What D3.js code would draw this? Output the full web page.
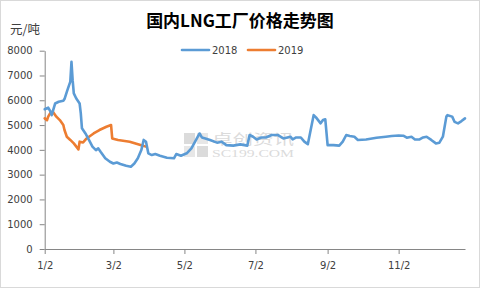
<!doctype html>
<html lang="zh">
<head>
<meta charset="utf-8">
<title>国内LNG工厂价格走势图</title>
<style>
	html, body { margin: 0; padding: 0; background: #fff; }
	svg { display: block; }
</style>
</head>
<body>
<svg id="chart" width="480" height="288"></svg>
<script src="https://cdn.jsdelivr.net/npm/d3@7/dist/d3.min.js"></script>
<script>
// 2018 series (month/day, yuan per ton)
var dates2018 = ["1/2","1/5","1/7","1/8","1/11","1/14","1/18","1/19","1/21","1/22","1/24","1/25","1/26","1/27","1/29",
	"2/1","2/2","2/3","2/4","2/6","2/9","2/12","2/15","2/17","2/19","2/23","2/27","3/2","3/5","3/8","3/13","3/17",
	"3/20","3/23","3/26","3/28","3/30","4/1","4/4","4/7","4/11","4/17","4/23","4/25","4/29","5/4","5/8","5/12",
	"5/15","5/17","5/20","5/24","5/30","6/3","6/7","6/13","6/19","6/25","6/27","6/30","7/3","7/7","7/11","7/16",
	"7/21","7/26","8/1","8/3","8/6","8/10","8/13","8/16","8/19","8/21","8/23","8/27","8/29","8/31","9/2","9/7",
	"9/12","9/15","9/18","9/21","9/25","9/28","10/5","10/14","10/22","10/27","11/2","11/6","11/9","11/13","11/16",
	"11/20","11/23","11/26","11/30","12/4","12/7","12/10","12/13","12/14","12/18","12/20","12/23","12/26","12/29"];
var values2018 = [5640,5700,5540,5400,5870,5940,5980,6050,6340,6480,6750,7550,6810,6280,6080,
	5870,5470,4870,4800,4660,4400,4130,3990,4060,3920,3660,3520,3450,3490,3430,3360,3320,
	3450,3660,3990,4400,4330,3860,3790,3830,3760,3680,3660,3830,3760,3860,4060,4400,
	4660,4500,4460,4400,4290,4330,4190,4170,4220,4170,4600,4530,4420,4500,4500,4600,
	4600,4460,4530,4420,4500,4500,4330,4230,4930,5400,5310,5070,5200,5230,4190,4190,
	4170,4330,4600,4560,4530,4400,4420,4490,4530,4560,4580,4570,4490,4530,4420,
	4420,4500,4530,4400,4260,4290,4530,5340,5400,5340,5130,5070,5160,5270];

// 2019 series
var dates2019 = ["1/2","1/4","1/5","1/7","1/9","1/12","1/15","1/18","1/19","1/21","1/24","1/27","1/31",
	"2/1","2/4","2/7","2/13","2/18","2/24","2/28","3/1","3/6","3/16","3/26","3/30"];
var values2019 = [5270,5200,5340,5500,5540,5340,5200,5000,4800,4530,4400,4260,4020,
	4330,4300,4460,4660,4800,4930,5000,4460,4400,4330,4190,4130];

var seriesNames = ["2018", "2019"];
var seriesColors = ["#5B9BD5", "#ED7D31"];
var yTicks = [0, 1000, 2000, 3000, 4000, 5000, 6000, 7000, 8000];
var xTickLabels = ["1/2", "3/2", "5/2", "7/2", "9/2", "11/2"];

(function () {
	"use strict";

	var parse = function (s) { return d3.timeParse("%Y/%m/%d")("2018/" + s); };
	var fmt = d3.timeFormat("%-m/%-d");

	var svg = d3.select("#chart");
	var font = "'DejaVu Sans', Verdana, sans-serif";

	// outer frame
	svg.append("rect")
		.attr("x", 0.5).attr("y", 0.5)
		.attr("width", 479).attr("height", 287)
		.attr("fill", "#fff")
		.attr("stroke", "#d9d9d9");

	var x = d3.scaleTime()
		.domain([parse("1/2"), parse("12/29")])
		.range([44.7, 465]);
	var y = d3.scaleLinear()
		.domain([0, 8000])
		.range([249, 50.7]);

	// watermark
	var wm = svg.append("g").attr("opacity", 0.35);
	wm.append("rect").attr("x", 184).attr("y", 133).attr("width", 11).attr("height", 11).attr("fill", "#999");
	wm.append("rect").attr("x", 197).attr("y", 133).attr("width", 11).attr("height", 11).attr("fill", "#bbb");
	wm.append("rect").attr("x", 184).attr("y", 146).attr("width", 11).attr("height", 11).attr("fill", "#bbb");
	wm.append("rect").attr("x", 197).attr("y", 146).attr("width", 11).attr("height", 11).attr("fill", "#999");
	wm.append("text").attr("x", 212).attr("y", 144)
		.attr("font-family", "'Noto Sans CJK SC'").attr("font-size", 14)
		.attr("textLength", 82).attr("lengthAdjust", "spacingAndGlyphs")
		.attr("fill", "#999").text("卓创资讯");
	wm.append("text").attr("x", 212).attr("y", 157)
		.attr("font-family", "'Liberation Serif', serif").attr("font-size", 10)
		.attr("textLength", 82).attr("lengthAdjust", "spacingAndGlyphs")
		.attr("fill", "#999").text("SC199.COM");

	// y axis
	var yAxis = svg.append("g")
		.attr("transform", "translate(44.7,0)")
		.call(d3.axisLeft(y).tickValues(yTicks).tickSize(5).tickSizeOuter(0).tickFormat(d3.format("d")));
	// x axis
	var xAxis = svg.append("g")
		.attr("transform", "translate(0,249)")
		.call(d3.axisBottom(x).tickValues(xTickLabels.map(parse)).tickSize(5).tickSizeOuter(0).tickFormat(fmt));

	[yAxis, xAxis].forEach(function (g) {
		g.selectAll("path, line").attr("stroke", "#868686");
		g.selectAll("text")
			.attr("font-family", font)
			.attr("font-size", 10)
			.attr("fill", "#404040");
	});
	yAxis.selectAll("text").attr("x", -12);
	xAxis.selectAll("text").attr("y", 13);

	var line = d3.line()
		.x(function (d) { return x(d.date); })
		.y(function (d) { return y(d.value); });

	var series = [
		dates2018.map(function (d, i) { return { date: parse(d), value: values2018[i] }; }),
		dates2019.map(function (d, i) { return { date: parse(d), value: values2019[i] }; })
	];

	// draw 2018 on top of 2019 like the source
	[1, 0].forEach(function (i) {
		svg.append("path")
			.datum(series[i])
			.attr("fill", "none")
			.attr("stroke", seriesColors[i])
			.attr("stroke-width", 2.6)
			.attr("stroke-linejoin", "round")
			.attr("stroke-linecap", "round")
			.attr("d", line);
	});

	// title
	svg.append("text")
		.attr("x", 240).attr("y", 27)
		.attr("text-anchor", "middle")
		.attr("font-family", "'Noto Sans CJK SC'")
		.attr("font-weight", "bold")
		.attr("font-size", 17)
		.attr("fill", "#000")
		.text("国内LNG工厂价格走势图");

	// unit label
	svg.append("text")
		.attr("x", 10).attr("y", 34)
		.attr("font-family", "'Noto Sans CJK SC'")
		.attr("font-size", 12.5)
		.attr("fill", "#404040")
		.text("元/吨");

	// legend
	var legend = svg.append("g");
	var lx = [182, 248];
	seriesNames.forEach(function (name, i) {
		legend.append("line")
			.attr("x1", lx[i]).attr("x2", lx[i] + 27)
			.attr("y1", 50).attr("y2", 50)
			.attr("stroke", seriesColors[i])
			.attr("stroke-width", 2.6)
			.attr("stroke-linecap", "round");
		legend.append("text")
			.attr("x", lx[i] + 30).attr("y", 54)
			.attr("font-family", font)
			.attr("font-size", 10)
			.attr("fill", "#404040")
			.text(name);
	});
})();
</script>
</body>
</html>
